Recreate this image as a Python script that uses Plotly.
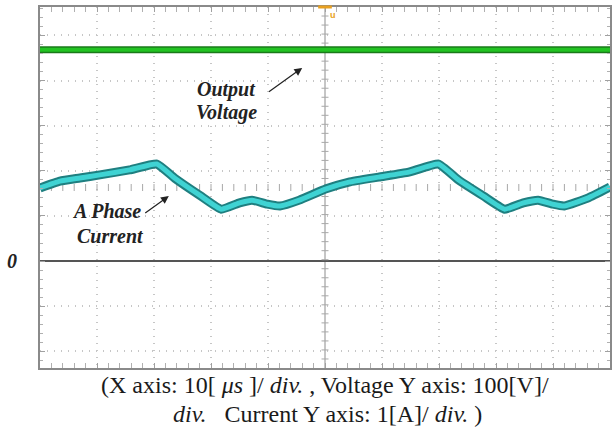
import plotly.graph_objects as go

# Time base: 10 us/div over 10 divisions
time_us = [0, 3.5, 7, 10.5, 15.7, 20.5, 23.6, 28, 31.8, 35, 37.2, 39.9, 42.1, 45.5,
           50.2, 54.2, 59.4, 64.7, 69.9, 73.4, 77.8, 81.5, 84.8, 87.4, 90, 92, 96.2, 100]
# A phase current [A], 1 A/div
current_a = [1.62, 1.77, 1.84, 1.91, 2.02, 2.15, 1.84, 1.46, 1.15, 1.29, 1.35, 1.26, 1.22, 1.35,
             1.60, 1.75, 1.86, 1.97, 2.15, 1.80, 1.44, 1.15, 1.29, 1.35, 1.26, 1.22, 1.40, 1.64]
# Output voltage [V], 100 V/div
volt_time_us = [0, 100]
voltage_v = [468, 468]

cur_range = [-2.37, 5.63]
volt_range = [-237, 563]
x_range = [0, 100]

fig = go.Figure()

# graticule centre-cross sub-division ticks
y_mid = (cur_range[0] + cur_range[1]) / 2
h_ticks = [x_range[0] + 2 * i for i in range(1, 50)]
v_ticks = [cur_range[0] + 0.2 * i for i in range(1, 40)]
fig.add_trace(go.Scatter(x=h_ticks, y=[y_mid] * len(h_ticks), mode="markers",
                         marker=dict(symbol="line-ns", size=5, line=dict(color="#a8a8a8", width=1)),
                         hoverinfo="skip", showlegend=False))
fig.add_trace(go.Scatter(x=[50] * len(v_ticks), y=v_ticks, mode="markers",
                         marker=dict(symbol="line-ew", size=5, line=dict(color="#a8a8a8", width=1)),
                         hoverinfo="skip", showlegend=False))

# voltage trace: dark outline under a bright core
fig.add_trace(go.Scatter(x=volt_time_us, y=voltage_v, yaxis="y2", mode="lines",
                         line=dict(color="#1a7a1a", width=7), hoverinfo="skip", showlegend=False))
fig.add_trace(go.Scatter(x=volt_time_us, y=voltage_v, yaxis="y2", mode="lines",
                         line=dict(color="#22c322", width=4), showlegend=False))

# current trace: dark teal outline under cyan core
fig.add_trace(go.Scatter(x=time_us, y=current_a, mode="lines", line_shape="spline",
                         line=dict(color="#1f7f80", width=9, smoothing=0.4),
                         hoverinfo="skip", showlegend=False))
fig.add_trace(go.Scatter(x=time_us, y=current_a, mode="lines", line_shape="spline",
                         line=dict(color="#3fd3d3", width=5, smoothing=0.4), showlegend=False))

axis_common = dict(showticklabels=False, showline=True, linecolor="#8a8a8a", linewidth=2,
                   mirror="allticks", ticks="inside", ticklen=5, tickcolor="#a0a0a0",
                   showgrid=True, gridcolor="#c6c6c6", griddash="1px,6px", gridwidth=1.5)

fig.update_layout(
    width=615, height=431,
    margin=dict(l=40, r=3, t=7, b=63),
    paper_bgcolor="white", plot_bgcolor="white",
    xaxis=dict(range=x_range, dtick=10, zeroline=False,
               minor=dict(ticks="inside", dtick=2, ticklen=3, tickcolor="#b0b0b0"),
               **axis_common),
    yaxis=dict(range=cur_range, tick0=0, dtick=1, zeroline=True,
               zerolinecolor="#555555", zerolinewidth=2,
               minor=dict(ticks="inside", dtick=0.2, ticklen=3, tickcolor="#b0b0b0"),
               **axis_common),
    yaxis2=dict(range=volt_range, overlaying="y", showgrid=False, showticklabels=False,
                zeroline=False, showline=False, ticks=""),
    shapes=[
        dict(type="line", xref="x", yref="paper", x0=50, x1=50, y0=0, y1=1,
             line=dict(color="#8c8c8c", width=1), layer="below"),
        dict(type="line", xref="x", yref="paper", x0=48.8, x1=51.2, y0=1, y1=1,
             line=dict(color="#e8a020", width=3)),
    ],
)

lab_font = dict(family="Liberation Serif, Times New Roman, serif", size=20, color="#222222")
annotations = [
    dict(x=32.8, y=3.81, text="<b><i>Output</i></b>"),
    dict(x=32.8, y=3.29, text="<b><i>Voltage</i></b>"),
    dict(x=11.7, y=1.11, text="<b><i>A Phase</i></b>"),
    dict(x=12.4, y=0.55, text="<b><i>Current</i></b>"),
]
for a in annotations:
    fig.add_annotation(xref="x", yref="y", showarrow=False, font=lab_font,
                       xanchor="center", yanchor="middle", **a)

# pointer arrows
fig.add_annotation(x=46.0, y=4.28, ax=39.9, ay=3.73, xref="x", yref="y", axref="x", ayref="y",
                   text="", showarrow=True, arrowhead=2, arrowsize=1.3, arrowwidth=1.2,
                   arrowcolor="#222222")
fig.add_annotation(x=22.6, y=1.44, ax=18.2, ay=1.04, xref="x", yref="y", axref="x", ayref="y",
                   text="", showarrow=True, arrowhead=2, arrowsize=1.3, arrowwidth=1.2,
                   arrowcolor="#222222")

# ground reference label
fig.add_annotation(xref="paper", yref="y", x=0, y=0, xanchor="right", xshift=-21,
                   text="<b><i>0</i></b>", showarrow=False, font=lab_font)

# trigger marker
fig.add_annotation(xref="x", yref="paper", x=51.4, y=1, yanchor="top", yshift=-1,
                   text="<b>u</b>", showarrow=False,
                   font=dict(family="Liberation Sans", size=9, color="#e8a020"))

# caption
cap_font = dict(family="Liberation Serif, Times New Roman, serif", size=24, color="#1a1a1a")
fig.add_annotation(xref="paper", yref="paper", x=0.5, y=-0.047, yanchor="middle",
                   text="(X axis: 10[ <i>μs</i> ]/ <i>div.</i> , Voltage Y axis: 100[V]/",
                   showarrow=False, font=cap_font)
fig.add_annotation(xref="paper", yref="paper", x=0.505, y=-0.127, yanchor="middle",
                   text="<i>div.</i>   Current Y axis: 1[A]/ <i>div.</i> )",
                   showarrow=False, font=cap_font)

fig.write_html("out.html")
